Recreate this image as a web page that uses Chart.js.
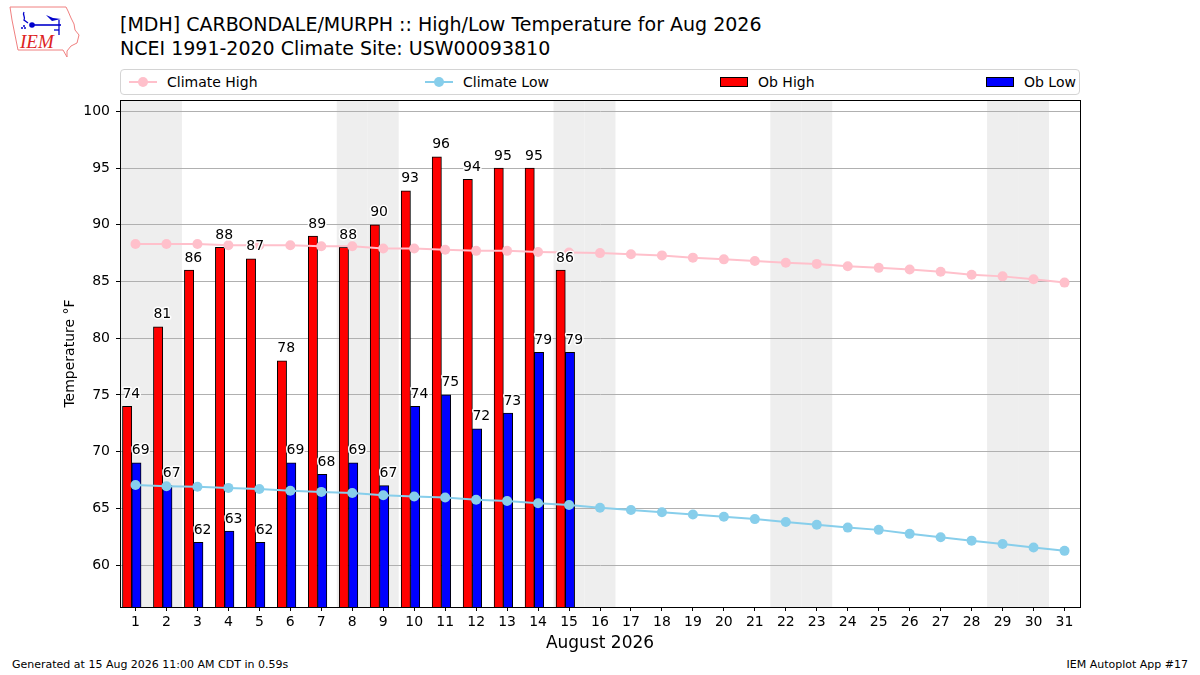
<!DOCTYPE html>
<html>
<head>
<meta charset="utf-8">
<script src="https://cdn.jsdelivr.net/npm/chart.js@4.4.1/dist/chart.umd.min.js"></script>
<style>
  html, body { margin: 0; padding: 0; background: #fff; }
  body { width: 1200px; height: 675px; position: relative; overflow: hidden; font-family: "DejaVu Sans", sans-serif; color: #000; }
  #c { position: absolute; left: 0; top: 0; }
  .title { position: absolute; left: 120px; font-size: 19px; line-height: 24px; white-space: nowrap; }
  #legend { position: absolute; left: 120px; top: 69px; width: 960px; height: 26px; box-sizing: border-box; border: 1px solid #d4d4d4; border-radius: 4px; background: #fff; }
  .li { position: absolute; top: 0; height: 24px; display: flex; align-items: center; font-size: 14px; white-space: nowrap; }
  .li svg { margin-right: 10px; }
  .foot { position: absolute; top: 657px; font-size: 11px; line-height: 16px; white-space: nowrap; }
  #logo { position: absolute; left: 6px; top: 4px; }
</style>
</head>
<body>
<svg id="logo" width="76" height="56" viewBox="0 0 76 56">
  <path d="M4,3 L60,3 L62,7 L65,14 L68,20 L69,26 L73,31 L71,39 L65,42 L61,47 L61,53 L57,46 L12,46 L10,36 L8,26 L6,16 Z" fill="none" stroke="#f08080" stroke-width="1"/>
  <path d="M18,8 C16,11 20,13 18,16 L22,19" fill="none" stroke="#0000cc" stroke-width="1.3"/>
  <circle cx="26" cy="21" r="2.8" fill="#0000cc"/>
  <line x1="26" y1="21" x2="55" y2="21" stroke="#0000cc" stroke-width="1.6"/>
  <path d="M40,11 L47,14 L55,15 L46,17 Z" fill="#0000cc"/>
  <line x1="53" y1="16" x2="53" y2="31" stroke="#0000cc" stroke-width="1.3"/>
  <line x1="48" y1="26" x2="53" y2="26" stroke="#0000cc" stroke-width="1.3"/>
  <circle cx="18" cy="22" r="1" fill="#0000cc"/><circle cx="16" cy="24" r="1" fill="#0000cc"/><circle cx="19" cy="24" r="1" fill="#0000cc"/>
  <text x="14" y="44" font-family="Liberation Serif, serif" font-style="italic" font-size="19" fill="#dd2222">IEM</text>
</svg>
<div class="title" style="top:12px">[MDH] CARBONDALE/MURPH :: High/Low Temperature for Aug 2026</div>
<div class="title" style="top:36px">NCEI 1991-2020 Climate Site: USW00093810</div>
<div id="legend"></div>
<div class="foot" style="left:12px">Generated at 15 Aug 2026 11:00 AM CDT in 0.59s</div>
<div class="foot" style="right:12px">IEM Autoplot App #17</div>
<canvas id="c" width="1200" height="675"></canvas>
<script>
// ---------------- data ----------------
const days = [1,2,3,4,5,6,7,8,9,10,11,12,13,14,15,16,17,18,19,20,21,22,23,24,25,26,27,28,29,30,31];
const climateHigh = [88.3,88.3,88.3,88.2,88.2,88.2,88.1,88.1,87.9,87.9,87.8,87.7,87.7,87.6,87.55,87.5,87.4,87.3,87.1,86.95,86.8,86.65,86.55,86.35,86.2,86.05,85.85,85.6,85.45,85.2,84.9];
const climateLow = [67.05,66.95,66.9,66.8,66.7,66.55,66.45,66.35,66.15,66.05,65.95,65.75,65.65,65.45,65.3,65.05,64.85,64.65,64.45,64.25,64.05,63.8,63.55,63.3,63.1,62.75,62.45,62.15,61.85,61.55,61.25];
const obHigh = [74,81,86,88,87,78,89,88,90,93,96,94,95,95,86];
const obLow = [69,67,62,63,62,69,68,69,67,74,75,72,73.4,78.75,78.75];
const weekendDays = [1,2,8,9,15,16,22,23,29,30];
const yTicks = [60,65,70,75,80,85,90,95,100];
const seriesNames = ["Climate High","Climate Low","Ob High","Ob Low"];
const xTitle = "August 2026";
const yTitle = "Temperature °F";

// ---------------- chart ----------------
const FONT = "'DejaVu Sans', sans-serif";
const pts = (arr) => arr.map((v, i) => ({x: days[i], y: v}));

const shadePlugin = {
  id: 'shade',
  beforeDraw(chart) {
    const {ctx, chartArea: a, scales: {x}} = chart;
    ctx.save();
    ctx.fillStyle = '#eeeeee';
    weekendDays.forEach(d => {
      const x0 = x.getPixelForValue(d - 0.5), x1 = x.getPixelForValue(d + 0.5);
      ctx.fillRect(x0, a.top, x1 - x0, a.bottom - a.top);
    });
    ctx.restore();
  }
};

const labelPlugin = {
  id: 'barLabels',
  afterDatasetsDraw(chart) {
    const {ctx, scales: {y}} = chart;
    ctx.save();
    ctx.font = "14px " + FONT;
    ctx.textAlign = 'left';
    ctx.textBaseline = 'alphabetic';
    ctx.lineJoin = 'round';
    chart.data.datasets.forEach((ds, di) => {
      if (ds.type !== 'bar') return;
      const meta = chart.getDatasetMeta(di);
      meta.data.forEach((el, i) => {
        const v = ds.data[i].y;
        const txt = String(Math.round(v));
        const tx = el.x - el.width / 2;
        const ty = y.getPixelForValue(v + 0.75);
        ctx.strokeStyle = '#fff';
        ctx.lineWidth = 3;
        ctx.strokeText(txt, tx, ty);
        ctx.fillStyle = '#000';
        ctx.fillText(txt, tx, ty);
      });
    });
    ctx.restore();
  },
  afterDraw(chart) {
    const {ctx, chartArea: a} = chart;
    ctx.save();
    ctx.strokeStyle = '#000';
    ctx.lineWidth = 1;
    ctx.strokeRect(Math.round(a.left) + 0.5, Math.round(a.top) + 0.5, Math.round(a.right - a.left), Math.round(a.bottom - a.top));
    ctx.restore();
  }
};

const datasets = [
  { type: 'line', label: seriesNames[0], data: pts(climateHigh), xAxisID: 'x', borderColor: '#ffc0cb', backgroundColor: '#ffc0cb', pointBackgroundColor: '#ffc0cb', pointBorderWidth: 0, pointRadius: 5, borderWidth: 2, tension: 0, order: 0 },
  { type: 'line', label: seriesNames[1], data: pts(climateLow), xAxisID: 'x', borderColor: '#87ceeb', backgroundColor: '#87ceeb', pointBackgroundColor: '#87ceeb', pointBorderWidth: 0, pointRadius: 5, borderWidth: 2, tension: 0, order: 0 },
  { type: 'bar', label: seriesNames[2], data: pts(obHigh), xAxisID: 'x2', backgroundColor: '#ff0000', borderColor: '#000', borderWidth: 1, barThickness: 9.3, order: 1 },
  { type: 'bar', label: seriesNames[3], data: pts(obLow), xAxisID: 'x2', backgroundColor: '#0000ff', borderColor: '#000', borderWidth: 1, barThickness: 9.3, order: 1 }
];

const setDayTicks = (s) => { s.ticks = days.map(v => ({value: v})); };

new Chart(document.getElementById('c'), {
  data: { datasets },
  options: {
    responsive: false,
    devicePixelRatio: 1,
    animation: false,
    events: [],
    layout: { padding: { left: 58, top: 100, right: 120, bottom: 18 } },
    plugins: { legend: { display: false }, tooltip: { enabled: false }, title: { display: false } },
    scales: {
      x: {
        type: 'linear', position: 'bottom', min: 0.5, max: 31.5, offset: false,
        afterBuildTicks: setDayTicks,
        afterFit: (s) => { s.height = 50; },
        grid: { offset: false, drawOnChartArea: false, drawTicks: true, tickLength: 4, tickColor: '#000', tickWidth: 1 },
        border: { display: true, color: '#000', width: 1 },
        ticks: { color: '#000', font: { family: FONT, size: 14 }, padding: 3, maxRotation: 0, autoSkip: false, callback: (v) => String(v) },
        title: { display: true, text: xTitle, color: '#000', font: { family: FONT, size: 17 }, padding: { top: 0, bottom: 3 } }
      },
      x2: {
        type: 'linear', position: 'top', display: true, min: 0.62, max: 31.62, offset: false,
        afterBuildTicks: setDayTicks,
        afterFit: (s) => { s.height = 0; s.paddingLeft = 0; s.paddingRight = 0; },
        grid: { offset: false, display: false, drawTicks: false, drawOnChartArea: false },
        border: { display: false },
        ticks: { display: false }
      },
      y: {
        type: 'linear', position: 'left', min: 56.3, max: 101, beginAtZero: false,
        afterBuildTicks: (s) => { s.ticks = yTicks.map(v => ({value: v})); },
        afterFit: (s) => { s.width = 62; },
        grid: { color: '#b0b0b0', lineWidth: 1, drawTicks: true, tickLength: 4, tickColor: '#000', tickWidth: 1 },
        border: { display: true, color: '#000', width: 1 },
        ticks: { color: '#000', font: { family: FONT, size: 14 }, padding: 6, callback: (v) => String(v) },
        title: { display: true, text: yTitle, color: '#000', font: { family: FONT, size: 14 }, padding: { top: 4, bottom: 0 } }
      }
    }
  },
  plugins: [shadePlugin, labelPlugin]
});

// ---------------- legend (HTML) ----------------
const legendLeft = [8, 304, 599, 865];
const legend = document.getElementById('legend');
datasets.forEach((ds, i) => {
  const item = document.createElement('div');
  item.className = 'li';
  item.style.left = legendLeft[i] + 'px';
  let sym;
  if (ds.type === 'line') {
    sym = `<svg width="28" height="14"><line x1="0" y1="7" x2="28" y2="7" stroke="${ds.borderColor}" stroke-width="2"/><circle cx="14" cy="7" r="5" fill="${ds.borderColor}"/></svg>`;
  } else {
    sym = `<svg width="28" height="14"><rect x="0.5" y="2.5" width="27" height="9" fill="${ds.backgroundColor}" stroke="#000" stroke-width="1"/></svg>`;
  }
  item.innerHTML = sym + `<span>${ds.label}</span>`;
  legend.appendChild(item);
});
</script>
</body>
</html>
